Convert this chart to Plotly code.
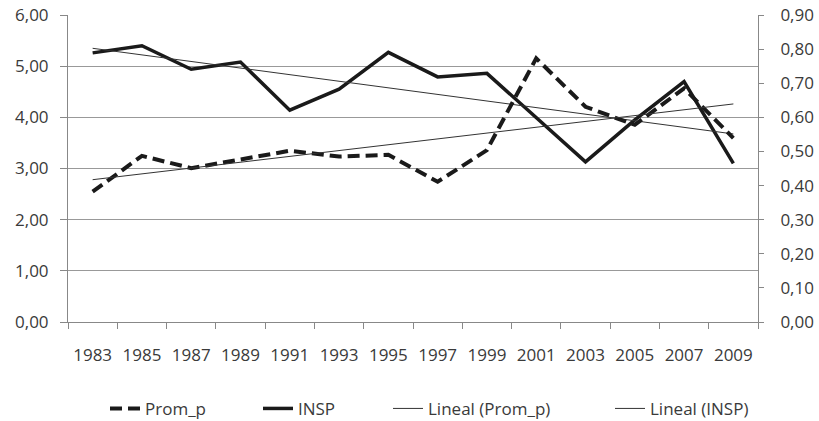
import numpy as np
import plotly.graph_objects as go

years = ["1983", "1985", "1987", "1989", "1991", "1993", "1995",
         "1997", "1999", "2001", "2003", "2005", "2007", "2009"]
insp = [5.26, 5.40, 4.94, 5.08, 4.14, 4.55, 5.27, 4.79, 4.86, 4.00, 3.13, 3.95, 4.70, 3.10]
prom_p = [0.382, 0.487, 0.451, 0.477, 0.502, 0.485, 0.490, 0.411, 0.504, 0.773, 0.631, 0.578, 0.685, 0.539]
left_ticks = [0, 1, 2, 3, 4, 5, 6]
right_ticks = [0, 0.1, 0.2, 0.3, 0.4, 0.5, 0.6, 0.7, 0.8, 0.9]

idx = np.arange(len(years))
tp = np.polyval(np.polyfit(idx, prom_p, 1), idx)
ti = np.polyval(np.polyfit(idx, insp, 1), idx)

fig = go.Figure()
fig.add_trace(go.Scatter(x=years, y=prom_p, name="Prom_p", mode="lines", yaxis="y2",
                         legend="legend",
                         line=dict(color="#1a1a1a", width=4, dash="12px,6px")))
fig.add_trace(go.Scatter(x=years, y=insp, name="INSP", mode="lines", legend="legend2",
                         line=dict(color="#1a1a1a", width=3.5)))
fig.add_trace(go.Scatter(x=years, y=tp, name="Lineal (Prom_p)", mode="lines", yaxis="y2",
                         legend="legend3", line=dict(color="#333333", width=1)))
fig.add_trace(go.Scatter(x=years, y=ti, name="Lineal (INSP)", mode="lines",
                         legend="legend4", line=dict(color="#333333", width=1)))

tf = dict(family="Open Sans, Noto Sans, sans-serif", size=17, color="#3a3a3a")

PX0, PW = 68, 690


def leg(px):
    return dict(orientation="h", x=(px - PX0) / PW, xanchor="left", y=-0.283,
                yanchor="middle", font=tf, itemwidth=30, bgcolor="rgba(0,0,0,0)")


fig.update_layout(
    width=819, height=421,
    margin=dict(l=68, r=61, t=15, b=99, autoexpand=False),
    paper_bgcolor="white", plot_bgcolor="white",
    separators=",.",
    font=tf,
    showlegend=True,
    legend=leg(105), legend2=leg(258), legend3=leg(388), legend4=leg(610),
    xaxis=dict(type="category", range=[-0.5, 13.5], showgrid=False, tickson="boundaries",
               ticks="outside", ticklen=6, tickcolor="#888888", showline=True,
               linecolor="#888888", linewidth=1, tickfont=tf, ticklabelstandoff=18,
               tickangle=0, automargin=False),
    yaxis=dict(range=[0, 6], tickvals=left_ticks, tickformat=".2f", showgrid=True,
               gridcolor="#999999", gridwidth=1, showline=True, linecolor="#888888",
               ticks="outside", ticklen=7, tickcolor="#888888", zeroline=False,
               tickfont=tf, ticklabelstandoff=8, automargin=False,
               ticklabeloverflow="allow"),
    yaxis2=dict(range=[0, 0.9], tickvals=right_ticks, tickformat=".2f", overlaying="y",
                side="right", showgrid=False, showline=True, linecolor="#888888",
                ticks="outside", ticklen=5, tickcolor="#888888", zeroline=False,
                tickfont=tf, ticklabelstandoff=13, automargin=False,
                ticklabeloverflow="allow"),
)
fig.write_html("out.html", config={"displayModeBar": False},
               post_script="document.body.style.margin='0';")
